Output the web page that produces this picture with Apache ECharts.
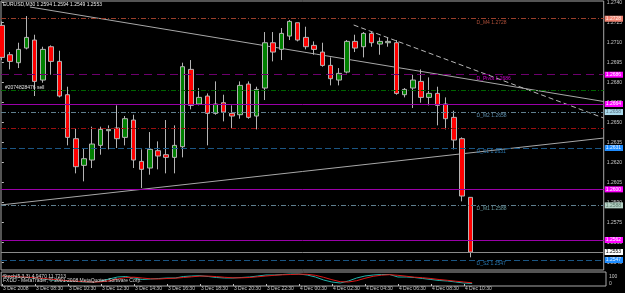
<!DOCTYPE html>
<html><head><meta charset="utf-8">
<script src="https://cdn.jsdelivr.net/npm/echarts@6/dist/echarts.min.js"></script>
<style>html,body{margin:0;padding:0;background:#000;}#c{width:625px;height:293px;}</style>
</head><body><div id="c"></div>
<script>
const symbolName = 'EURUSD,M30';
const tickIndex = [0,4,8,12,16,20,24,28,32,36,40,44,48,52,56];
const tickLabels = ['3 Dec 2008','3 Dec 08:30','3 Dec 10:30','3 Dec 12:30','3 Dec 14:30','3 Dec 16:30','3 Dec 18:30','3 Dec 20:30','3 Dec 22:30','4 Dec 00:30','4 Dec 02:30','4 Dec 04:30','4 Dec 06:30','4 Dec 08:30','4 Dec 10:30'];
const opens  = [1.2723,1.2701,1.2695,1.2706,1.2712,1.2682,1.2707,1.2696,1.2671,1.2638,1.2618,1.2622,1.2633,1.2644,1.2646,1.2639,1.2652,1.2621,1.2616,1.2629,1.2626,1.2624,1.2632,1.2690,1.2664,1.2670,1.2657,1.2665,1.2657,1.2656,1.2679,1.2655,1.2676,1.2710,1.2705,1.2715,1.2725,1.2714,1.2708,1.2703,1.2693,1.2682,1.2688,1.2711,1.2707,1.2717,1.2709,1.2710,1.2710,1.2671,1.2676,1.2681,1.2669,1.2672,1.2664,1.2654,1.2638,1.2594];
const closes = [1.2699,1.2696,1.2705,1.2714,1.2681,1.2705,1.2696,1.2670,1.2639,1.2617,1.2623,1.2634,1.2645,1.2645,1.2638,1.2653,1.2622,1.2615,1.2630,1.2625,1.2624,1.2633,1.2692,1.2663,1.2669,1.2657,1.2664,1.2658,1.2655,1.2678,1.2654,1.2675,1.2710,1.2703,1.2717,1.2726,1.2712,1.2707,1.2705,1.2693,1.2683,1.2687,1.2711,1.2706,1.2717,1.2710,1.2711,1.2711,1.2672,1.2675,1.2682,1.2669,1.2672,1.2663,1.2653,1.2637,1.2595,1.2553];
const lows   = [1.2697,1.2690,1.2691,1.2705,1.2670,1.2680,1.2686,1.2669,1.2633,1.2612,1.2606,1.2616,1.2626,1.2630,1.2631,1.2633,1.2616,1.2601,1.2611,1.2615,1.2612,1.2612,1.2624,1.2660,1.2663,1.2633,1.2656,1.2651,1.2646,1.2653,1.2653,1.2645,1.2667,1.2696,1.2697,1.2712,1.2711,1.2705,1.2701,1.2692,1.2678,1.2678,1.2687,1.2703,1.2699,1.2707,1.2701,1.2707,1.2671,1.2669,1.2661,1.2665,1.2663,1.2648,1.2645,1.2630,1.2591,1.2549];
const highs  = [1.2726,1.2703,1.2710,1.2730,1.2716,1.2707,1.2708,1.2704,1.2677,1.2646,1.2631,1.2647,1.2647,1.2648,1.2663,1.2655,1.2656,1.2630,1.2643,1.2636,1.2652,1.2648,1.2695,1.2697,1.2676,1.2672,1.2681,1.2671,1.2663,1.2681,1.2681,1.2677,1.2718,1.2718,1.2721,1.2727,1.2725,1.2722,1.2711,1.2710,1.2699,1.2691,1.2712,1.2716,1.2718,1.2718,1.2714,1.2714,1.2712,1.2676,1.2686,1.2690,1.2684,1.2677,1.2669,1.2659,1.2639,1.2594];
const priceTicks = [1.2740,1.2725,1.2710,1.2695,1.2680,1.2665,1.2650,1.2635,1.2620,1.2605,1.2590,1.2575,1.2560,1.2545];
const stochMain   = [80,75,70,65,60,50,40,35,30,25,20,15,30,50,70,75,60,45,50,55,60,60,75,80,83,75,65,60,60,65,70,80,90,90,95,100,100,90,70,40,20,10,30,60,80,90,95,95,70,70,65,55,45,35,30,20,10,5];
const stochSignal = [78,76,72,68,62,55,47,40,33,28,23,19,22,32,50,65,68,60,52,50,55,58,65,72,79,79,74,67,62,62,65,72,80,87,92,95,98,97,87,67,43,23,20,33,57,77,88,93,87,78,68,63,55,45,37,28,20,12];
const levelPrices = [1.2728,1.2686,1.2674,1.2664,1.2658,1.2646,1.2631,1.2600,1.2588,1.2562,1.2553,1.2547];
const levelNames  = ['D_M4','D_Pivot','','','D_M2','','D_S1','','D_M1','','','D_S2'];
const levelBoxed  = [true,true,false,true,true,false,true,true,true,true,true,true];
const trendLines = [
  [[3.42,1.27368],[73.23,1.26659]],
  [[42.81,1.27233],[73.23,1.26535]],
  [[-0.1,1.25883],[73.23,1.26385]]
];
const orderLabel = '#2074828476 sell';
const stochLabel = 'Stoch(5,3,3) 4.9470 11.7213';
const copyright = 'FXDD - MetaTrader, \u00a9 2001-2008 MetaQuotes Software Corp.';

// styles
const FF = 'Liberation Sans';
const FS = 5;
const XMIN = -0.1, XMAX = 73.23, LABEL_X = 57.7;
const levelStyles = [
  {c:'#9a3e2a', t:[5,2,1,2], box:'#f08472', bc:'#fff0e8', tc:'#b0503a'},
  {c:'#6e006e', t:[8,5], box:'#ff00ff', bc:'#ffffff', tc:'#d000d0'},
  {c:'#006400', t:[5,2,1,2]},
  {c:'#9a00a8', t:'solid', box:'#ff00ff', bc:'#ffffff'},
  {c:'#5f7f8f', t:[5,2,1,2], box:'#a8d8ea', bc:'#5a7080', tc:'#5a8aa8'},
  {c:'#9a1010', t:[5,2,1,2]},
  {c:'#1a5684', t:[6,3], box:'#1e8cff', bc:'#e8f4ff', tc:'#2a78b0'},
  {c:'#9a00a8', t:'solid', box:'#ff00ff', bc:'#ffffff'},
  {c:'#5f7f8f', t:[5,2,1,2], box:'#b4d0c4', bc:'#5a7a6a', tc:'#6a9aa0'},
  {c:'#9a00a8', t:'solid', box:'#ff00ff', bc:'#ffffff'},
  {c:'#8a8a8a', t:'solid', box:'#ffffff', bc:'#000000'},
  {c:'#1a5684', t:[6,3], box:'#1e8cff', bc:'#e8f4ff', tc:'#2a78b0'}
];

const candleData = opens.map((o,i)=>[i,o,closes[i],lows[i],highs[i]]);
const last = opens.length-1;
const titleText = symbolName+' '+opens[last].toFixed(4)+' '+highs[last].toFixed(4)+' '+lows[last].toFixed(4)+' '+closes[last].toFixed(4);

const markLineData = levelPrices.map((p,k)=>{
  const s = levelStyles[k];
  return {
    yAxis: p,
    lineStyle: {color: s.c, type: s.t, width: 1},
    label: levelBoxed[k] ? {show:true, position:'end', distance:1, formatter: p.toFixed(4),
      backgroundColor: s.box, color: s.bc, fontSize: FS, fontFamily: FF, padding:[1,2,0,1], lineHeight: 5} : {show:false}
  };
});
const markPointData = [];
levelPrices.forEach((p,k)=>{
  if (levelNames[k]) markPointData.push({
    coord:[LABEL_X,p],
    label:{show:true, position:'right', distance:0, offset:[0,3.5], formatter: levelNames[k]+' '+p.toFixed(4),
      color: levelStyles[k].tc, fontSize: FS, fontFamily: FF}
  });
});

const chart = echarts.init(document.getElementById('c'), null, {renderer:'canvas'});
const txt = (c)=>({fontSize:FS, fontFamily:FF, color:c, fontWeight:'normal'});
chart.setOption({
  backgroundColor:'#000000',
  animation:false,
  title:[
    {text:titleText, left:3, top:2.5, padding:0, textStyle:txt('#e8e8e8')},
    {text:orderLabel, left:5, top:85.5, padding:0, textStyle:txt('#e0e0e0')},
    {text:stochLabel, left:3, top:274, padding:0, textStyle:txt('#d8d8d8')},
    {text:copyright, left:3, top:278, padding:0, textStyle:txt('#d8d8d8')}
  ],
  grid:[
    {left:1, right:19, top:1, height:269, show:true, borderColor:'#a8a8a8', borderWidth:1, backgroundColor:'transparent'},
    {left:1, right:19, top:272, height:14, show:true, borderColor:'#a8a8a8', borderWidth:1, backgroundColor:'transparent'}
  ],
  xAxis:[
    {type:'value', gridIndex:0, min:XMIN, max:XMAX, axisLine:{show:false}, axisTick:{show:false}, axisLabel:{show:false}, splitLine:{show:false}},
    {type:'value', gridIndex:1, min:XMIN, max:XMAX, axisLine:{show:false}, splitLine:{show:false},
      axisTick:{show:true, customValues:tickIndex, length:2, lineStyle:{color:'#c0c0c0'}},
      axisLabel:{show:true, customValues:tickIndex, margin:0, align:'left', padding:[0,0,0,1], fontSize:FS, fontFamily:FF, color:'#c8c8c8',
        formatter:(v)=>{const k=tickIndex.indexOf(Math.round(v)); return k>=0?tickLabels[k]:'';}}}
  ],
  yAxis:[
    {type:'value', gridIndex:0, position:'right', min:1.25395, max:1.27413, axisLine:{show:false}, splitLine:{show:false},
      axisTick:{show:true, customValues:priceTicks, length:2, lineStyle:{color:'#c0c0c0'}},
      axisLabel:{show:true, customValues:priceTicks, margin:3, fontSize:FS, fontFamily:FF, color:'#c8c8c8', formatter:(v)=>v.toFixed(4)}},
    {type:'value', gridIndex:1, position:'right', min:-20, max:120, axisLine:{show:false}, splitLine:{show:false}, axisTick:{show:false},
      axisLabel:{show:true, customValues:[100], margin:3, verticalAlign:'top', fontSize:FS, fontFamily:FF, color:'#c8c8c8'}},
    {type:'value', gridIndex:1, position:'right', min:-20, max:120, axisLine:{show:false}, splitLine:{show:false}, axisTick:{show:false},
      axisLabel:{show:true, customValues:[0], margin:3, verticalAlign:'middle', fontSize:FS, fontFamily:FF, color:'#c8c8c8'}}
  ],
  series:[
    ...trendLines.map((ln,k)=>({type:'line', xAxisIndex:0, yAxisIndex:0, data:ln, showSymbol:false, silent:true,
      lineStyle:{color: k===1?'#b8b8b8':'#a8a8a8', width:1, type: k===1?[5,3]:'solid'}, z:3})),
    {type:'candlestick', xAxisIndex:0, yAxisIndex:0, data:candleData, barWidth:5, z:4,
      itemStyle:{color:'#008000', color0:'#ff0000', borderColor:'#b4b4b4', borderColor0:'#b4b4b4', borderWidth:1},
      markLine:{silent:true, precision:5, symbol:['none','none'], animation:false, data:markLineData},
      markPoint:{silent:true, symbol:'circle', symbolSize:1, itemStyle:{color:'rgba(0,0,0,0)'}, data:markPointData}
    },
    {type:'line', xAxisIndex:1, yAxisIndex:1, data:stochMain.map((v,i)=>[i,v]), showSymbol:false, lineStyle:{color:'#20b2aa', width:1}},
    {type:'line', xAxisIndex:1, yAxisIndex:1, data:stochSignal.map((v,i)=>[i,v]), showSymbol:false, lineStyle:{color:'#e01818', width:1}}
  ]
});
</script></body></html>
